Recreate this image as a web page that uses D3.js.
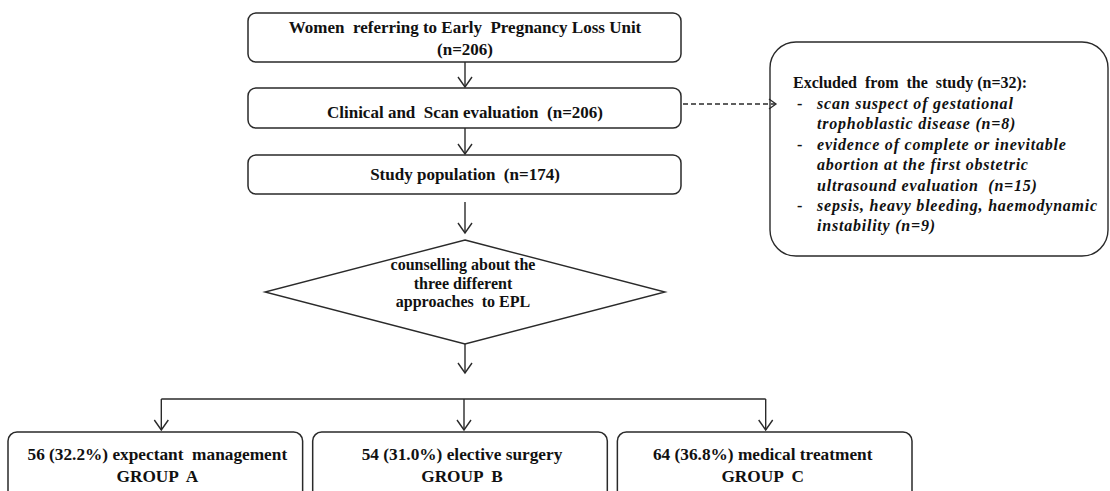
<!DOCTYPE html>
<html>
<head>
<meta charset="utf-8">
<script src="https://cdn.jsdelivr.net/npm/d3@7"></script>
<style>
  body { margin: 0; background: #fff; }
</style>
</head>
<body>
<svg id="flow" width="1110" height="491"></svg>
<script>
const FONT = "'Liberation Serif', 'Times New Roman', serif";

// ---- data ----
var stepLabels   = ["Women  referring to Early  Pregnancy Loss Unit", "Clinical and  Scan evaluation", "Study population"];
var stepCounts   = [206, 206, 174];
var decisionText = ["counselling about the", "three different", "approaches  to EPL"];
var excludedTotal = 32;
var excludedLines = [
    ["scan suspect of gestational", "trophoblastic disease (n=8)"],
    ["evidence of complete or inevitable", "abortion at the first obstetric", "ultrasound evaluation  (n=15)"],
    ["sepsis, heavy bleeding, haemodynamic", "instability (n=9)"]
];
var groupCounts     = [56, 54, 64];
var groupPercents   = ["32.2%", "31.0%", "36.8%"];
var groupTreatments = ["expectant  management", "elective surgery", "medical treatment"];
var groupNames      = ["A", "B", "C"];

// ---- layout ----
const COLX = 465;        // centre of the main column
const BOXL = 248, BOXR = 681;
const STROKE = "#2a2a2a";

var svg = d3.select("#flow");

var stepTops    = [13, 88, 155];
var stepBottoms = [62, 128, 194];

function label(x, y, size, txt, anchor){
    return svg.append("text")
        .attr("x", x).attr("y", y)
        .attr("text-anchor", anchor || "middle")
        .style("font-family", FONT)
        .attr("font-weight", "bold")
        .attr("font-size", size)
        .attr("fill", "#111")
        .style("white-space", "pre")
        .text(txt);
}

function arrowDown(x, y1, y2){
    svg.append("line")
        .attr("x1", x).attr("y1", y1).attr("x2", x).attr("y2", y2)
        .attr("stroke", STROKE).attr("stroke-width", 1.4);
    svg.append("path")
        .attr("d", "M" + (x - 7) + "," + (y2 - 10) + "L" + x + "," + y2 + "L" + (x + 7) + "," + (y2 - 10))
        .attr("fill", "none").attr("stroke", STROKE).attr("stroke-width", 1.4);
}

stepLabels.forEach(function(lbl, i){
    svg.append("rect")
        .attr("x", BOXL).attr("y", stepTops[i])
        .attr("width", BOXR - BOXL).attr("height", stepBottoms[i] - stepTops[i])
        .attr("rx", 8).attr("ry", 8)
        .attr("fill", "#fff").attr("stroke", STROKE).attr("stroke-width", 1.5);
});

label(COLX, 33, 17, stepLabels[0]);
label(COLX, 55, 17, "(n=" + stepCounts[0] + ")");
label(COLX, 118, 17, stepLabels[1] + "  (n=" + stepCounts[1] + ")");
label(COLX, 180, 17, stepLabels[2] + "  (n=" + stepCounts[2] + ")");

arrowDown(COLX, stepBottoms[0], stepTops[1] - 1);
arrowDown(COLX, stepBottoms[1], stepTops[2] - 1);

// decision diamond
var dia = {top: 240, bottom: 344, left: 265, right: 665, cy: 292};
svg.append("path")
    .attr("d", "M" + COLX + "," + dia.top + "L" + dia.right + "," + dia.cy +
               "L" + COLX + "," + dia.bottom + "L" + dia.left + "," + dia.cy + "Z")
    .attr("fill", "#fff").attr("stroke", STROKE).attr("stroke-width", 1.4);
arrowDown(COLX, stepBottoms[2] + 8, dia.top - 7);

decisionText.forEach(function(t, i){
    label(COLX - 2, 270 + i * 18.5, 16, t);
});

arrowDown(COLX, dia.bottom, 373);

// excluded box + dashed arrow
svg.append("rect")
    .attr("x", 770).attr("y", 42).attr("width", 338).attr("height", 214)
    .attr("rx", 26).attr("ry", 26)
    .attr("fill", "#fff").attr("stroke", STROKE).attr("stroke-width", 1.4);

svg.append("line")
    .attr("x1", BOXR + 2).attr("y1", 104).attr("x2", 775).attr("y2", 104)
    .attr("stroke", STROKE).attr("stroke-width", 1.3)
    .attr("stroke-dasharray", "5,3");
svg.append("path")
    .attr("d", "M769,99L776,104L769,109")
    .attr("fill", "none").attr("stroke", STROKE).attr("stroke-width", 1.3);

label(793, 88, 16, "Excluded  from  the  study (n=" + excludedTotal + "):", "start");

var lineY = 109;
excludedLines.forEach(function(item){
    label(797, lineY, 16, "-", "start");
    item.forEach(function(t){
        label(817, lineY, 16, t, "start")
            .attr("font-style", "italic")
            .attr("letter-spacing", 0.78);
        lineY += 20.4;
    });
});

// groups
var groupX = d3.scaleBand()
    .domain(groupNames)
    .range([8, 912])
    .paddingInner(0.033);

var busY = 399;
var arrowNudge = [6, 4, 1];
var textNudge  = [2, 2, -2];
svg.append("line")
    .attr("x1", groupX("A") + groupX.bandwidth() / 2 + arrowNudge[0])
    .attr("x2", groupX("C") + groupX.bandwidth() / 2 + arrowNudge[2])
    .attr("y1", busY).attr("y2", busY)
    .attr("stroke", STROKE).attr("stroke-width", 1.4);

groupNames.forEach(function(g, i){
    var x0 = groupX(g), mid = x0 + groupX.bandwidth() / 2;
    arrowDown(mid + arrowNudge[i], busY, 430);
    svg.append("rect")
        .attr("x", x0).attr("y", 432)
        .attr("width", groupX.bandwidth()).attr("height", 80)
        .attr("rx", 9).attr("ry", 9)
        .attr("fill", "#fff").attr("stroke", STROKE).attr("stroke-width", 1.5);
    label(mid + textNudge[i], 460, 17.3, groupCounts[i] + " (" + groupPercents[i] + ") " + groupTreatments[i]);
    label(mid + textNudge[i], 482, 17.3, "GROUP  " + g);
});
</script>
</body>
</html>
